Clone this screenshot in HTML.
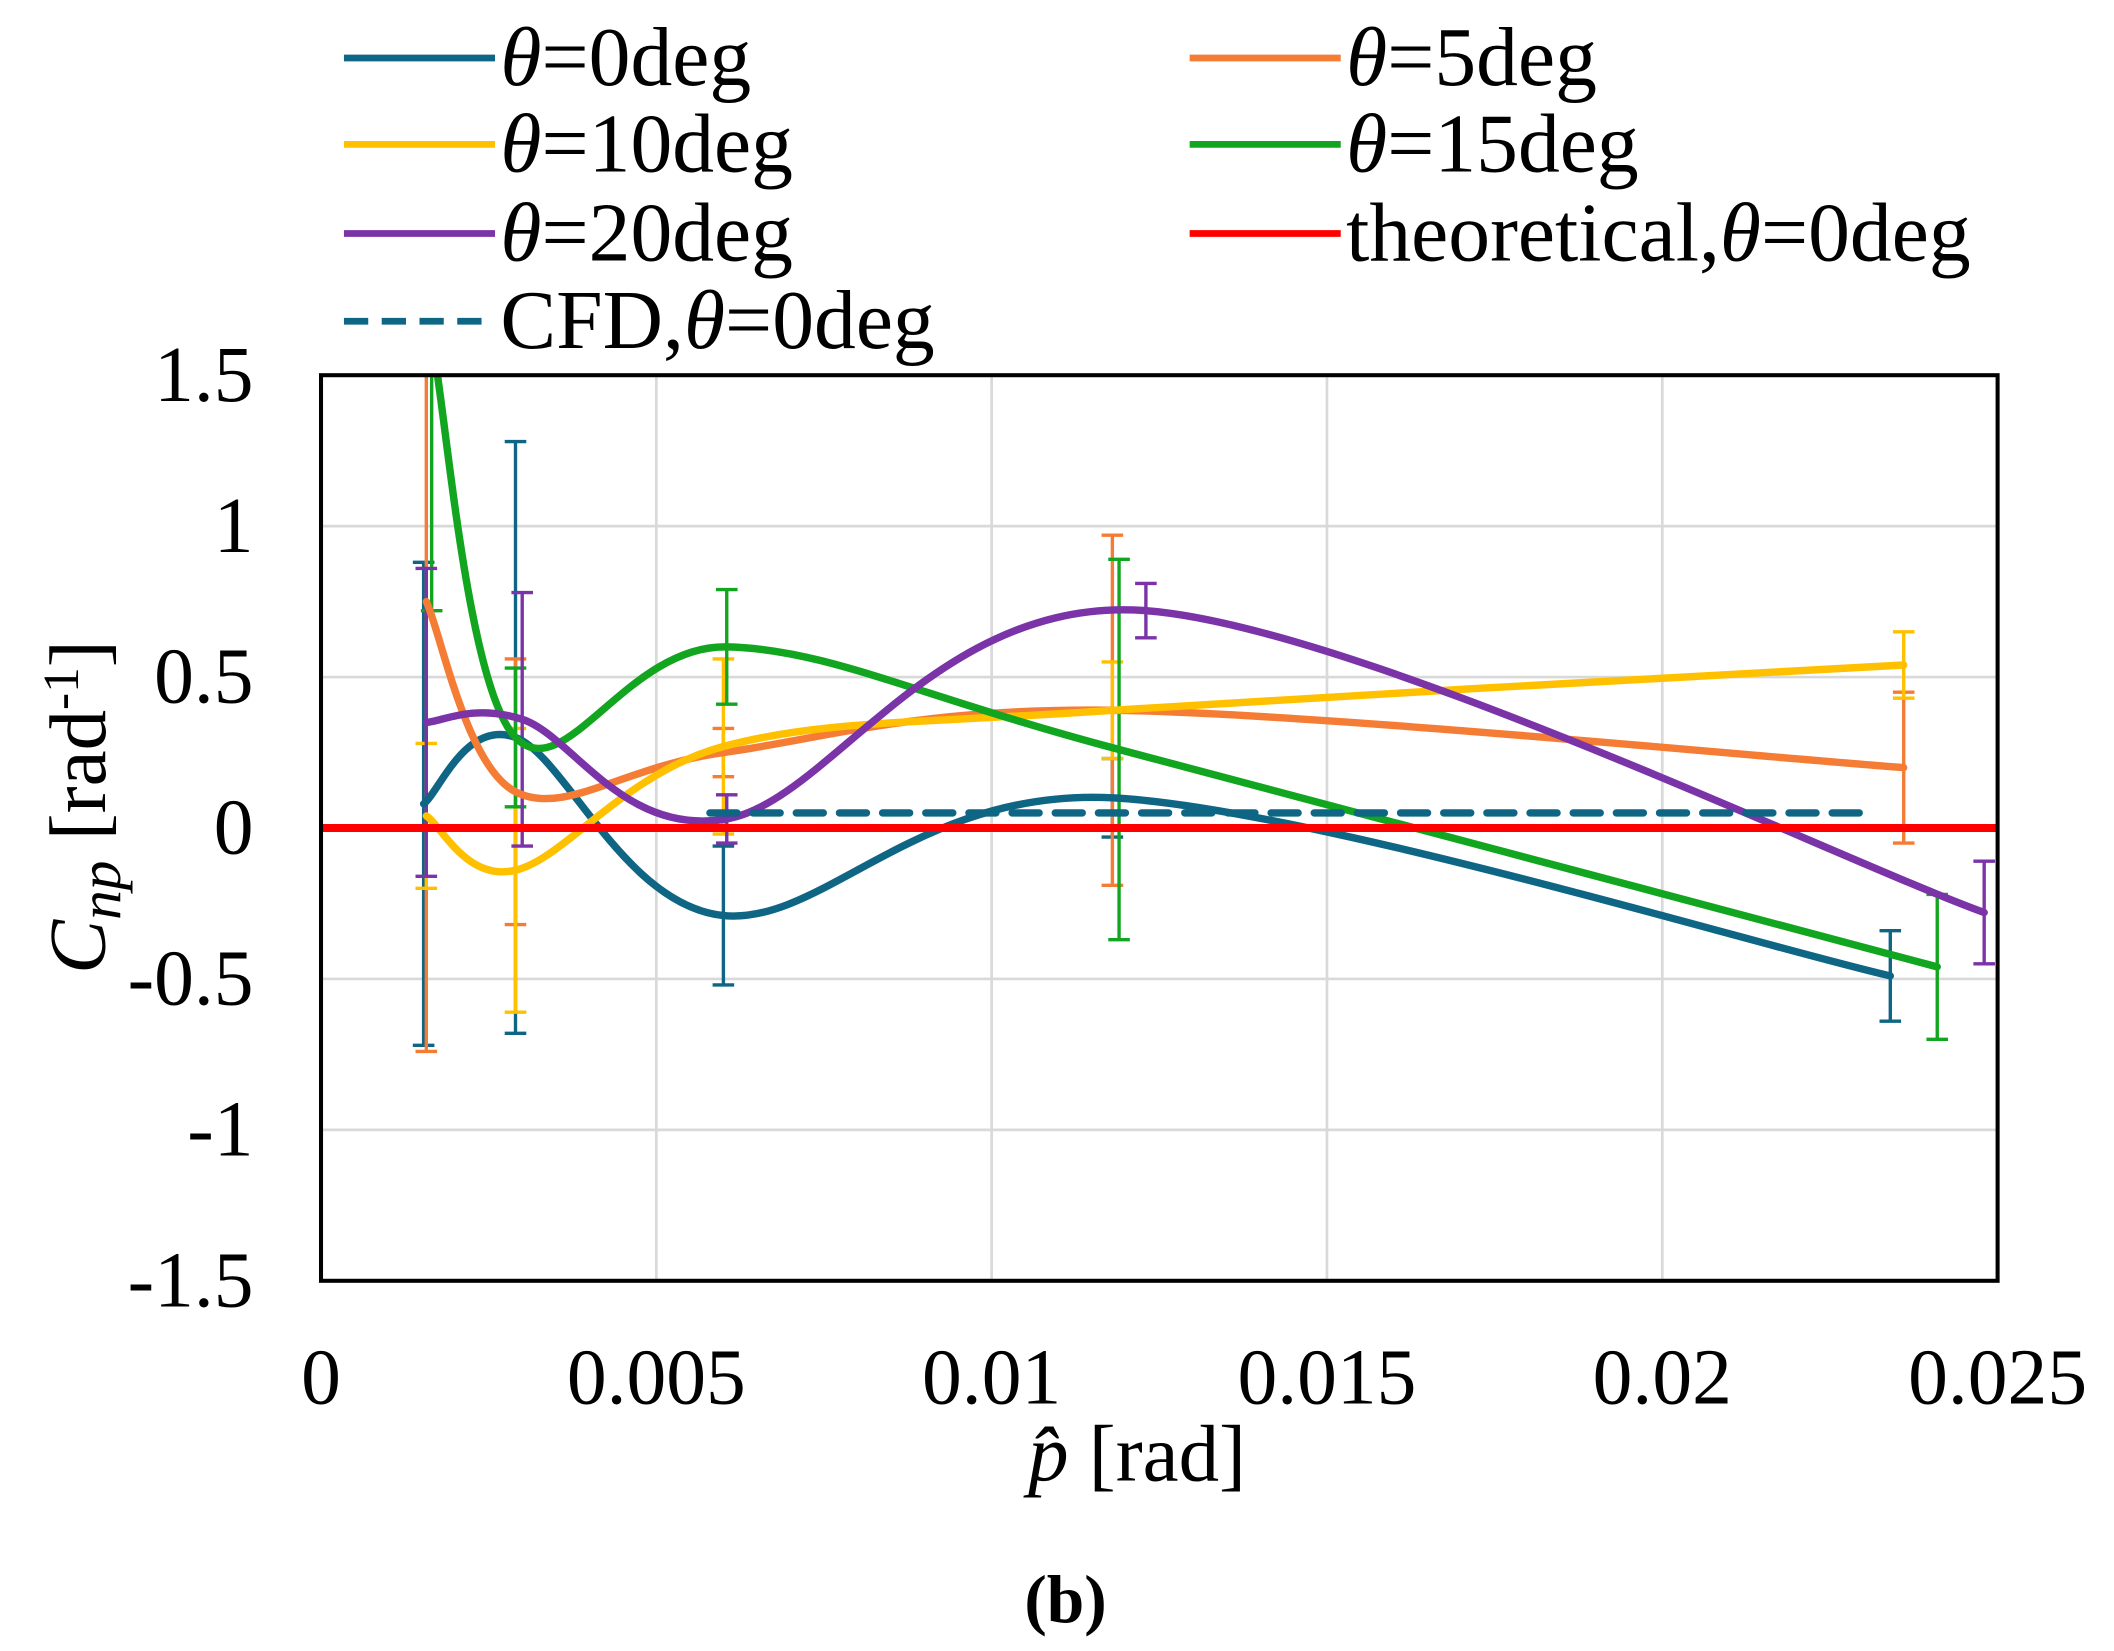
<!DOCTYPE html>
<html><head><meta charset="utf-8"><style>
html,body{margin:0;padding:0;background:#fff;}
svg{display:block;}
text{font-family:"Liberation Serif",serif;fill:#000;}
</style></head><body>
<svg id="chart" width="2114" height="1651" viewBox="0 0 1567.3 1223.3" preserveAspectRatio="none" xmlns="http://www.w3.org/2000/svg">
<defs><clipPath id="plotclip"><rect x="238" y="278" width="1243" height="671"/></clipPath></defs>
<g id="grid"></g>
<g id="series" clip-path="url(#plotclip)"></g>
<rect x="238" y="278" width="1243" height="671" fill="none" stroke="#000" stroke-width="3"/>
<g id="ticks" font-size="59"></g>
<text x="843" y="1097" font-size="60" text-anchor="middle"><tspan font-style="italic">p̂</tspan> [rad]</text>
<text transform="translate(78,598) rotate(-90)" font-size="60" text-anchor="middle"><tspan font-style="italic">C<tspan font-size="44" dy="11">np</tspan></tspan><tspan dy="-11">  [rad</tspan><tspan font-size="38" dy="-20">-1</tspan><tspan dy="20">]</tspan></text>
<text x="790" y="1202" font-size="50" font-weight="bold" text-anchor="middle">(b)</text>
<g id="legend" font-size="62"></g>
</svg>
<script>
const xTicks=[0,0.005,0.01,0.015,0.02,0.025];
const xTickLabels=["0","0.005","0.01","0.015","0.02","0.025"];
const yTicks=[1.5,1,0.5,0,-0.5,-1,-1.5];
const yTickLabels=["1.5","1","0.5","0","-0.5","-1","-1.5"];
const x0=[0.00153,0.0029,0.006,0.0118,0.0234];
const y0=[0.08,0.30,-0.29,0.10,-0.49];
const e0=[0.8,0.98,0.23,0.13,0.15];
const x5=[0.00157,0.0029,0.006,0.0118,0.0236];
const y5=[0.75,0.12,0.25,0.39,0.20];
const e5=[1.49,0.44,0.08,0.58,0.25];
const x10=[0.00157,0.0029,0.006,0.0118,0.0236];
const y10=[0.04,-0.14,0.27,0.39,0.54];
const e10=[0.24,0.47,0.29,0.16,0.11];
const x15=[0.00165,0.0029,0.00605,0.0119,0.0241];
const y15=[1.62,0.3,0.6,0.26,-0.46];
const e15=[0.9,0.23,0.19,0.63,0.24];
const x20=[0.00157,0.003,0.00605,0.0123,0.0248];
const y20=[0.35,0.36,0.03,0.72,-0.28];
const e20=[0.51,0.42,0.08,0.09,0.17];
const xCFD=[0.0058,0.023];
const yCFD=[0.05,0.05];
const xTheo=[0,0.025];
const yTheo=[0,0];

const L=238,R=1481,T=278,B=949;
const sx=v=>L+(v-0)/0.025*(R-L);
const sy=v=>B-(v+1.5)/3*(B-T);
const NS="http://www.w3.org/2000/svg";
function mk(tag,attrs,parent){const e=document.createElementNS(NS,tag);for(const k in attrs)e.setAttribute(k,attrs[k]);parent.appendChild(e);return e;}
const grid=document.getElementById('grid'),ticks=document.getElementById('ticks'),series=document.getElementById('series'),legend=document.getElementById('legend');
xTicks.forEach((t,i)=>{
 const g=mk('line',{x1:sx(t),x2:sx(t),y1:T,y2:B,stroke:'#d9d9d9','stroke-width':2},grid);
 
 
 const tx=mk('text',{x:sx(t),y:1040,'text-anchor':'middle'},ticks);tx.textContent=xTickLabels[i];
 
 
});
yTicks.forEach((t,i)=>{
 const g=mk('line',{x1:L,x2:R,y1:sy(t),y2:sy(t),stroke:'#d9d9d9','stroke-width':2},grid);
 
 
 const tx=mk('text',{x:188,y:sy(t)+19,'text-anchor':'end'},ticks);tx.textContent=yTickLabels[i];
 
 
});
function smoothPath(xs,ys){
 const p=xs.map((x,i)=>[sx(x),sy(ys[i])]);
 let d=`M${p[0][0]},${p[0][1]}`;
 for(let i=0;i<p.length-1;i++){
  const a=p[Math.max(i-1,0)],b=p[i],c=p[i+1],e=p[Math.min(i+2,p.length-1)];
  const c1=[b[0]+(c[0]-a[0])/6,b[1]+(c[1]-a[1])/6],c2=[c[0]-(e[0]-b[0])/6,c[1]-(e[1]-b[1])/6];
  d+=` C${c1[0]},${c1[1]} ${c2[0]},${c2[1]} ${c[0]},${c[1]}`;
 }
 return d;
}
const defs=[
 {name:'theta-0',xs:x0,ys:y0,es:e0,c:'#0f6584'},
 {name:'theta-5',xs:x5,ys:y5,es:e5,c:'#f57c35'},
 {name:'theta-10',xs:x10,ys:y10,es:e10,c:'#ffc000'},
 {name:'theta-15',xs:x15,ys:y15,es:e15,c:'#12a51f'},
 {name:'theta-20',xs:x20,ys:y20,es:e20,c:'#7b33a8'}
];
defs.forEach(s=>{
 s.xs.forEach((x,i)=>{
  const X=sx(x),t=sy(s.ys[i]+s.es[i]),b=sy(s.ys[i]-s.es[i]);
  const eb=mk('path',{d:`M${X},${t}V${b}M${X-8},${t}H${X+8}M${X-8},${b}H${X+8}`,stroke:s.c,'stroke-width':2.5,fill:'none'},series);
  
  
 });
});
defs.forEach(s=>{
 const p=mk('path',{d:smoothPath(s.xs,s.ys),stroke:s.c,'stroke-width':5.5,fill:'none','stroke-linecap':'round'},series);
 
 
});
const cfd=mk('line',{x1:sx(xCFD[0]),x2:sx(xCFD[1]),y1:sy(yCFD[0]),y2:sy(yCFD[1]),stroke:'#0f6584','stroke-width':5.5,'stroke-dasharray':'20 12','stroke-linecap':'round'},series);


const theo=mk('line',{x1:sx(xTheo[0]),x2:sx(xTheo[1]),y1:sy(yTheo[0]),y2:sy(yTheo[1]),stroke:'#ff0000','stroke-width':6},series);



const leg=[
 {x:255,y:43,c:'#0f6584',t:['=0deg'],dash:false},
 {x:882,y:43,c:'#f57c35',t:['=5deg'],dash:false},
 {x:255,y:107,c:'#ffc000',t:['=10deg'],dash:false},
 {x:882,y:107,c:'#12a51f',t:['=15deg'],dash:false},
 {x:255,y:173,c:'#7b33a8',t:['=20deg'],dash:false},
 {x:882,y:173,c:'#ff0000',pre:' theoretical,',t:['=0deg'],dash:false},
 {x:255,y:238,c:'#0f6584',pre:'CFD,',t:['=0deg'],dash:true}
];
leg.forEach(l=>{
 const ln=mk('line',{x1:l.x,x2:l.x+112,y1:l.y,y2:l.y,stroke:l.c,'stroke-width':5},legend);
 if(l.dash){ln.setAttribute('stroke-dasharray','18 10');}
 
 
 const tx=mk('text',{x:l.x+116,y:l.y+20},legend);
 
 
 if(l.pre){const a=mk('tspan',{},tx);a.textContent=l.pre;}
 const th=mk('tspan',{'font-style':'italic'},tx);th.textContent='θ';
 const r=mk('tspan',{},tx);r.textContent=l.t[0];
});
</script>
</body></html>
